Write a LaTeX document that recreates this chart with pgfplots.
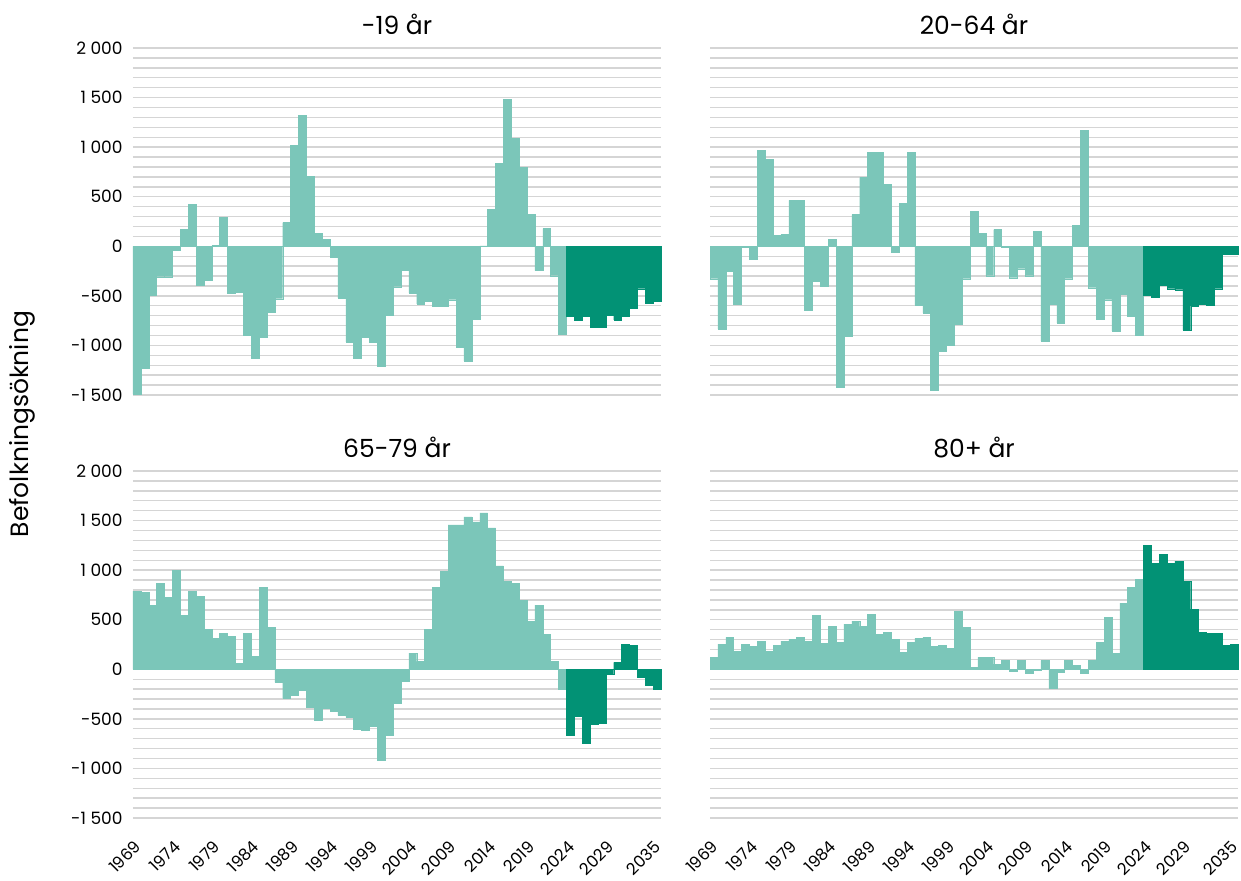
\documentclass[border=0pt]{standalone}
\usepackage{pgfplots}
\pgfplotsset{compat=1.18}
\usepackage{pgfplotstable}
\usepackage{fontspec}
\setmainfont{Poppins}
\definecolor{light}{HTML}{7BC6B9}
\definecolor{dark}{HTML}{029275}
\definecolor{gridc}{HTML}{D5D5D5}

\pgfplotstableread{
year A B C D
1969 -1490 -327 788 121
1970 -1227 -833 778 253
1971 -489 -256 646 323
1972 -307 -580 869 182
1973 -307 -10 727 253
1974 -44 -135 1000 232
1975 169 968 545 283
1976 421 877 788 182
1977 -388 108 737 242
1978 -347 118 404 283
1979 7 462 313 303
1980 290 462 364 323
1981 -469 -641 333 283
1982 -459 -357 61 545
1983 -893 -398 364 263
1984 -1126 67 131 434
1985 -914 -1419 828 273
1986 -661 -904 424 455
1987 -529 320 -131 485
1988 239 695 -293 434
1989 1018 947 -263 556
1990 1322 947 -212 354
1991 705 624 -384 374
1992 128 -64 -516 303
1993 67 432 -394 172
1994 -115 947 -425 273
1995 -519 -590 -465 313
1996 -964 -671 -485 323
1997 -1126 -1450 -607 232
1998 -914 -1055 -617 242
1999 -964 -995 -577 212
2000 -1207 -782 -920 586
2001 -691 -327 -668 424
2002 -408 351 -344 20
2003 -246 128 -121 121
2004 -469 -297 162 121
2005 -580 169 81 51
2006 -550 -5 405 91
2007 -600 -317 829 -20
2008 -600 -226 991 91
2009 -539 -297 1457 -40
2010 -1015 148 1457 -10
2011 -1156 -954 1537 91
2012 -732 -580 1487 -192
2013 5 -772 1578 -30
2014 371 -327 1426 91
2015 836 209 1042 40
2016 1483 1170 890 -40
2017 1089 -418 870 91
2018 796 -732 698 273
2019 320 -539 485 525
2020 -246 -853 647 162
2021 179 -479 354 667
2022 -297 -701 81 828
2023 -883 -893 -202 909
2024 -701 -489 -668 1252
2025 -742 -509 -475 1071
2026 -701 -388 -748 1162
2027 -813 -428 -556 1071
2028 -813 -438 -546 1091
2029 -691 -843 -51 889
2030 -742 -600 71 606
2031 -701 -580 253 374
2032 -620 -590 243 364
2033 -428 -428 -81 364
2034 -570 -84 -162 242
2035 -550 -84 -202 253
}\data

\tikzset{ttl/.style={anchor=base, font=\fontsize{12.5}{14}\selectfont, yshift=7pt}}

\pgfplotsset{
  panel/.style={
    scale only axis, width=264pt, height=173.5pt,
    xmin=1968.5, xmax=2035.5, ymin=-1500, ymax=2000,
    clip=false,
    axis line style={draw=none},
    tick style={draw=none},
    ytick={-1500,-1000,...,2000},
    minor ytick={-1500,-1400,...,2000},
    ymajorgrids, yminorgrids,
    major grid style={gridc, line width=0.7pt},
    minor grid style={gridc, line width=0.7pt},
    yticklabels={-1 500,-1 000,-500,0,500,1 000,1 500,2 000},
    yticklabel style={font=\fontsize{8.5}{10}\selectfont, inner sep=0pt, xshift=-5pt},
    xtick={1969,1974,1979,1984,1989,1994,1999,2004,2009,2014,2019,2024,2029,2035},
    xticklabels={1969,1974,1979,1984,1989,1994,1999,2004,2009,2014,2019,2024,2029,2035},
    xticklabel style={font=\fontsize{8.2}{10}\selectfont, inner sep=0pt, xshift=0.5pt, yshift=-8.5pt, rotate=45, anchor=east},
    ybar, bar width=1, bar shift=0pt,
  },
  lightbar/.style={fill=light, draw=light, line width=0.2pt, restrict x to domain=1968:2023.5},
  darkbar/.style={fill=dark, draw=dark, line width=0.2pt, restrict x to domain=2023.5:2036},
}

\begin{document}
\begin{tikzpicture}
\begin{axis}[panel, at={(0pt,0pt)}, anchor=north west, xticklabels=\empty]
  \addplot[lightbar] table[x=year, y=A] {\data};
  \addplot[darkbar] table[x=year, y=A] {\data};
  \node[ttl] at (rel axis cs:0.5,1) {-19 år};
\end{axis}
\begin{axis}[panel, at={(288.5pt,0pt)}, anchor=north west, xticklabels=\empty, yticklabels=\empty]
  \addplot[lightbar] table[x=year, y=B] {\data};
  \addplot[darkbar] table[x=year, y=B] {\data};
  \node[ttl] at (rel axis cs:0.5,1) {20-64 år};
\end{axis}
\begin{axis}[panel, at={(0pt,-211.5pt)}, anchor=north west]
  \addplot[lightbar] table[x=year, y=C] {\data};
  \addplot[darkbar] table[x=year, y=C] {\data};
  \node[ttl] at (rel axis cs:0.5,1) {65-79 år};
\end{axis}
\begin{axis}[panel, at={(288.5pt,-211.5pt)}, anchor=north west, yticklabels=\empty]
  \addplot[lightbar] table[x=year, y=D] {\data};
  \addplot[darkbar] table[x=year, y=D] {\data};
  \node[ttl] at (rel axis cs:0.5,1) {80+ år};
\end{axis}
\node[rotate=90, font=\fontsize{12.5}{14}\selectfont] at (-55.25pt,-188pt) {Befolkningsökning};
\pgfresetboundingbox
\useasboundingbox (-66.5pt,24pt) rectangle (554pt,-416pt);
\end{tikzpicture}
\end{document}
